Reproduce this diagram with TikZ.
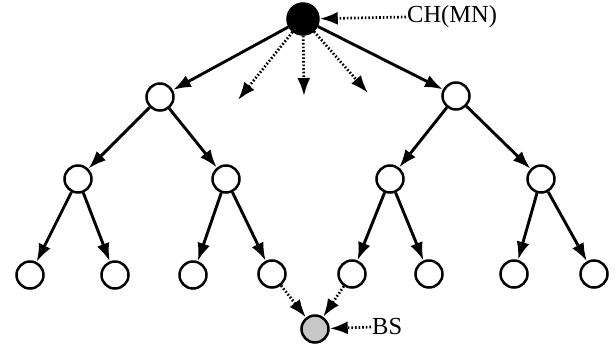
\documentclass[tikz,border=0pt]{standalone}
\usepackage{fontspec}
\setmainfont{Liberation Serif}
\usetikzlibrary{arrows.meta}
\begin{document}
\begin{tikzpicture}[x=1pt,y=-1pt,
  nd/.style={circle,draw,line width=2.5pt,minimum size=27pt,inner sep=0pt},
  arr/.style={line width=2.9pt,-{Latex[length=18pt,width=13pt]}},
  darr/.style={line width=2.7pt,dash pattern=on 1.6pt off 2pt,-{Latex[length=18pt,width=13pt]}},
  lbl/.style={font=\fontsize{24.5}{26}\selectfont,inner sep=1pt}]
\useasboundingbox (0,0) rectangle (616,345);
\node[nd,fill=black,minimum size=31pt] (r) at (303,19) {};
\node[nd] (a) at (160,97) {};
\node[nd] (b) at (456,96) {};
\node[nd] (a1) at (78,179) {};
\node[nd] (a2) at (226,179) {};
\node[nd] (b1) at (390,179) {};
\node[nd] (b2) at (541,179) {};
\node[nd] (c1) at (30,275) {};
\node[nd] (c2) at (115,275) {};
\node[nd] (c3) at (193,275) {};
\node[nd] (c4) at (272,274) {};
\node[nd] (c5) at (352,274) {};
\node[nd] (c6) at (429,274) {};
\node[nd] (c7) at (514,274) {};
\node[nd] (c8) at (594,274) {};
\node[nd,fill=black!22] (bs) at (315,329) {};
\node[lbl,anchor=west] (ch) at (406,17) {CH(MN)};
\node[lbl,anchor=west] (bsl) at (371,327) {BS};
\coordinate (d1) at (238,100);
\coordinate (d2) at (304,96);
\coordinate (d3) at (368,93);
\draw[arr] (r) -- (a);
\draw[arr] (r) -- (b);
\draw[darr] (r) -- (d1);
\draw[darr] (r) -- (d2);
\draw[darr] (r) -- (d3);
\draw[arr] (a) -- (a1);
\draw[arr] (a) -- (a2);
\draw[arr] (b) -- (b1);
\draw[arr] (b) -- (b2);
\draw[arr] (a1) -- (c1);
\draw[arr] (a1) -- (c2);
\draw[arr] (a2) -- (c3);
\draw[arr] (a2) -- (c4);
\draw[arr] (b1) -- (c5);
\draw[arr] (b1) -- (c6);
\draw[arr] (b2) -- (c7);
\draw[arr] (b2) -- (c8);
\draw[darr] (c4) -- (bs);
\draw[darr] (c5) -- (bs);
\draw[darr] (ch.west) -- (r);
\draw[darr] (bsl.west) -- (bs);
\end{tikzpicture}
\end{document}
